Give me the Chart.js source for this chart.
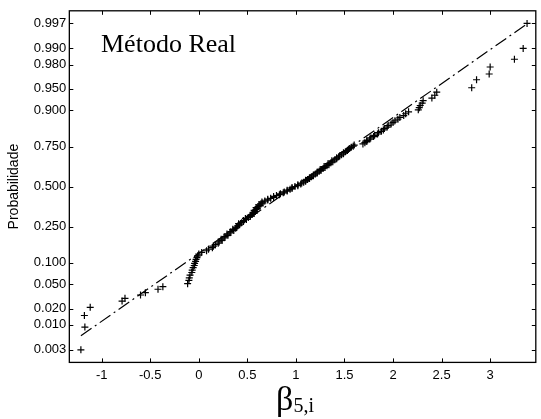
<!DOCTYPE html>
<html>
<head>
<meta charset="utf-8">
<title>Método Real</title>
<script src="https://cdn.jsdelivr.net/npm/chart.js@4.4.0/dist/chart.umd.min.js"></script>
<style>
    body { margin: 0; background: #fff; }
    #wrap { position: relative; width: 541px; height: 419px; }
    #chart { position: absolute; left: 0; top: 0; }
    .txt { position: absolute; font-family: 'Liberation Serif', 'Times New Roman', serif; color: #000; white-space: nowrap; line-height: 1; }
    #method { left: 101px; top: 31px; font-size: 26px; }
    #xtitle { left: 295px; top: 382px; font-size: 34px; transform: translateX(-50%); }
    #xtitle span { font-size: 20px; vertical-align: -2px; }
</style>
</head>
<body>
<div id="wrap">
    <canvas id="chart" width="541" height="419"></canvas>
    <div class="txt" id="method">Método Real</div>
    <div class="txt" id="xtitle">β<span>5,i</span></div>
</div>
<script>
// Normal probability plot data
const betaValues = [
    -1.214, -1.173, -1.178, -1.118, -0.790, -0.760, -0.600, -0.550, -0.420, -0.370,
    -0.115, -0.102, -0.098, -0.090, -0.072, -0.068, -0.058, -0.047, -0.043, -0.033,
    -0.028, -0.019, -0.012, 0.000, 0.03, 0.08, 0.10, 0.14, 0.15, 0.17,
    0.20, 0.21, 0.24, 0.23, 0.26, 0.27, 0.30, 0.29, 0.32, 0.33,
    0.36, 0.35, 0.38, 0.39, 0.40, 0.42, 0.41, 0.44, 0.46, 0.46,
    0.49, 0.48, 0.51, 0.53, 0.53, 0.55, 0.57, 0.56, 0.58, 0.57,
    0.59, 0.60, 0.59, 0.61, 0.63, 0.62, 0.64, 0.66, 0.65, 0.68,
    0.71, 0.71, 0.74, 0.77, 0.77, 0.80, 0.83, 0.84, 0.87, 0.88,
    0.91, 0.91, 0.94, 0.96, 0.96, 0.99, 1.02, 1.02, 1.05, 1.06,
    1.08, 1.10, 1.10, 1.12, 1.14, 1.14, 1.16, 1.18, 1.18, 1.20,
    1.22, 1.22, 1.24, 1.26, 1.25, 1.28, 1.30, 1.29, 1.32, 1.34,
    1.33, 1.36, 1.38, 1.37, 1.40, 1.42, 1.42, 1.44, 1.45, 1.47,
    1.49, 1.49, 1.51, 1.53, 1.54, 1.55, 1.57, 1.59, 1.60, 1.69,
    1.71, 1.73, 1.73, 1.76, 1.77, 1.80, 1.81, 1.84, 1.85, 1.88,
    1.90, 1.91, 1.94, 1.95, 1.98, 2.00, 2.02, 2.05, 2.07, 2.11,
    2.13, 2.16, 2.26, 2.27, 2.28, 2.30, 2.31, 2.40, 2.43, 2.45,
    2.81, 2.86, 2.99, 3.00, 3.25, 3.34, 3.38
];
const probValues = [
    0.003, 0.009, 0.015, 0.021, 0.027, 0.030, 0.034, 0.037, 0.042, 0.046,
    0.051, 0.057, 0.062, 0.068, 0.074, 0.080, 0.086, 0.092, 0.098, 0.104,
    0.110, 0.116, 0.122, 0.128, 0.134, 0.140, 0.146, 0.152, 0.158, 0.164,
    0.170, 0.176, 0.182, 0.188, 0.194, 0.200, 0.206, 0.212, 0.218, 0.224,
    0.230, 0.236, 0.242, 0.248, 0.254, 0.260, 0.266, 0.272, 0.278, 0.284,
    0.290, 0.296, 0.302, 0.308, 0.314, 0.320, 0.326, 0.332, 0.338, 0.344,
    0.350, 0.356, 0.362, 0.368, 0.374, 0.380, 0.386, 0.392, 0.398, 0.404,
    0.410, 0.416, 0.422, 0.428, 0.434, 0.440, 0.446, 0.452, 0.458, 0.464,
    0.470, 0.476, 0.482, 0.488, 0.494, 0.500, 0.506, 0.512, 0.518, 0.524,
    0.530, 0.536, 0.542, 0.548, 0.554, 0.560, 0.566, 0.572, 0.578, 0.584,
    0.590, 0.596, 0.602, 0.608, 0.614, 0.620, 0.626, 0.632, 0.638, 0.644,
    0.650, 0.656, 0.662, 0.668, 0.674, 0.680, 0.686, 0.692, 0.698, 0.704,
    0.710, 0.716, 0.722, 0.728, 0.734, 0.740, 0.746, 0.752, 0.758, 0.764,
    0.770, 0.776, 0.782, 0.788, 0.794, 0.800, 0.806, 0.812, 0.818, 0.824,
    0.830, 0.836, 0.842, 0.848, 0.854, 0.860, 0.866, 0.872, 0.878, 0.884,
    0.890, 0.896, 0.902, 0.908, 0.914, 0.920, 0.926, 0.932, 0.938, 0.944,
    0.952, 0.964, 0.971, 0.978, 0.984, 0.990, 0.997
];

// Fitted reference line (dash-dot), end points
const refLineBeta = [-1.214, 3.377];
const refLineProb = [0.006, 0.9969];

// Axis ticks
const xTicks = [-1, -0.5, 0, 0.5, 1, 1.5, 2, 2.5, 3];
const probTicks = [0.003, 0.01, 0.02, 0.05, 0.1, 0.25, 0.5, 0.75, 0.9, 0.95, 0.98, 0.99, 0.997];
const probTickLabels = ['0.003', '0.010', '0.020', '0.050', '0.100', '0.250', '0.500',
                        '0.750', '0.900', '0.950', '0.980', '0.990', '0.997'];

// Inverse normal CDF (Acklam) - used as the probability scale
function probToZ(p) {
    const a = [-3.969683028665376e+01, 2.209460984245205e+02, -2.759285104469687e+02,
               1.383577518672690e+02, -3.066479806614716e+01, 2.506628277459239e+00];
    const b = [-5.447609879822406e+01, 1.615858368580409e+02, -1.556989798598866e+02,
               6.680131188771972e+01, -1.328068155288572e+01];
    const c = [-7.784894002430293e-03, -3.223964580411365e-01, -2.400758277161838e+00,
               -2.549732539343734e+00, 4.374664141464968e+00, 2.938163982698783e+00];
    const d = [7.784695709041462e-03, 3.224671290700398e-01, 2.445134137142996e+00,
               3.754408661907416e+00];
    const pl = 0.02425;
    let q, r;
    if (p < pl) {
        q = Math.sqrt(-2 * Math.log(p));
        return (((((c[0]*q + c[1])*q + c[2])*q + c[3])*q + c[4])*q + c[5]) /
               ((((d[0]*q + d[1])*q + d[2])*q + d[3])*q + 1);
    }
    if (p > 1 - pl) {
        q = Math.sqrt(-2 * Math.log(1 - p));
        return -(((((c[0]*q + c[1])*q + c[2])*q + c[3])*q + c[4])*q + c[5]) /
                ((((d[0]*q + d[1])*q + d[2])*q + d[3])*q + 1);
    }
    q = p - 0.5;
    r = q * q;
    return (((((a[0]*r + a[1])*r + a[2])*r + a[3])*r + a[4])*r + a[5]) * q /
           (((((b[0]*r + b[1])*r + b[2])*r + b[3])*r + b[4])*r + 1);
}

// Box with inward ticks on all four sides (MATLAB look)
const framePlugin = {
    id: 'frame',
    afterDatasetsDraw(chart) {
        const { ctx, chartArea: a, scales: { x, y } } = chart;
        const len = 4;
        ctx.save();
        ctx.strokeStyle = '#000';
        ctx.lineWidth = 1.3;
        ctx.strokeRect(a.left, a.top, a.right - a.left, a.bottom - a.top);
        ctx.lineWidth = 1;
        ctx.beginPath();
        x.ticks.forEach(t => {
            const px = Math.round(x.getPixelForValue(t.value)) + 0.5;
            ctx.moveTo(px, a.bottom); ctx.lineTo(px, a.bottom - len);
            ctx.moveTo(px, a.top); ctx.lineTo(px, a.top + len);
        });
        y.ticks.forEach(t => {
            const py = Math.round(y.getPixelForValue(t.value)) + 0.5;
            ctx.moveTo(a.left, py); ctx.lineTo(a.left + len, py);
            ctx.moveTo(a.right, py); ctx.lineTo(a.right - len, py);
        });
        ctx.stroke();
        ctx.restore();
    }
};

const tickFont = { family: 'Liberation Sans', size: 13 };

new Chart(document.getElementById('chart').getContext('2d'), {
    type: 'scatter',
    data: {
        datasets: [
            {
                data: betaValues.map((b, i) => ({ x: b, y: probToZ(probValues[i]) })),
                pointStyle: 'cross',
                pointRadius: 3.5,
                borderColor: '#000',
                borderWidth: 1.2,
                showLine: false
            },
            {
                data: refLineBeta.map((b, i) => ({ x: b, y: probToZ(refLineProb[i]) })),
                showLine: true,
                borderColor: '#000',
                borderWidth: 1.2,
                borderDash: [13, 4, 2, 4],
                pointRadius: 0,
                fill: false
            }
        ]
    },
    options: {
        responsive: false,
        animation: false,
        devicePixelRatio: 1,
        layout: { padding: { left: 0, right: 5, top: 7, bottom: 31 } },
        plugins: {
            legend: { display: false },
            tooltip: { enabled: false }
        },
        scales: {
            x: {
                type: 'linear',
                min: -1.333,
                max: 3.47,
                grid: { display: false, drawTicks: false },
                border: { display: false },
                afterBuildTicks: axis => { axis.ticks = xTicks.map(v => ({ value: v })); },
                ticks: {
                    font: tickFont, color: '#000', padding: 5,
                    maxRotation: 0, autoSkip: false,
                    callback: v => String(v)
                }
            },
            y: {
                type: 'linear',
                min: -2.96,
                max: 2.96,
                grid: { display: false, drawTicks: false },
                border: { display: false },
                afterBuildTicks: axis => { axis.ticks = probTicks.map(p => ({ value: probToZ(p) })); },
                ticks: {
                    font: tickFont, color: '#000', padding: 3, autoSkip: false,
                    callback: (v, i) => probTickLabels[i]
                },
                title: {
                    display: true,
                    text: 'Probabilidade',
                    color: '#000',
                    font: { family: 'Liberation Sans', size: 14 },
                    padding: { top: 6, bottom: 8 }
                }
            }
        }
    },
    plugins: [framePlugin]
});
</script>
</body>
</html>
